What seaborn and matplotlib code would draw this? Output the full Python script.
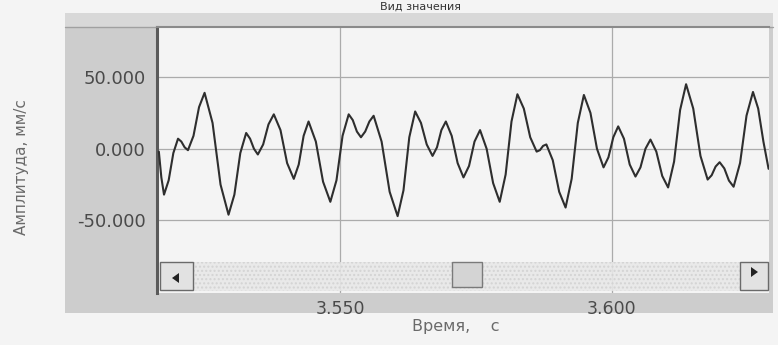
import matplotlib
matplotlib.use("Agg")
import matplotlib.pyplot as plt
from matplotlib.patches import Rectangle, Polygon
import seaborn as sns
import pandas as pd

# ---- data ----
time_s = [
    3.51664, 3.51710, 3.51759, 3.51845, 3.51931,
    3.52017, 3.52078, 3.52139,
    3.52200, 3.52302, 3.52404,
    3.52506, 3.52653, 3.52800,
    3.52947, 3.53055, 3.53164,
    3.53272, 3.53344, 3.53415,
    3.53487, 3.53585, 3.53683,
    3.53781, 3.53904, 3.54026,
    3.54149, 3.54240, 3.54330,
    3.54421, 3.54555, 3.54688,
    3.54822, 3.54935, 3.55047,
    3.55160, 3.55235, 3.55311,
    3.55386, 3.55464, 3.55541,
    3.55619, 3.55766, 3.55914,
    3.56061, 3.56169, 3.56276,
    3.56384, 3.56491, 3.56597,
    3.56704, 3.56786, 3.56867,
    3.56949, 3.57057, 3.57166,
    3.57274, 3.57376, 3.57477,
    3.57579, 3.57700, 3.57820,
    3.57941, 3.58050, 3.58158,
    3.58267, 3.58385, 3.58503,
    3.58621, 3.58681, 3.58740,
    3.58800, 3.58918, 3.59036,
    3.59154, 3.59266, 3.59379,
    3.59491, 3.59612, 3.59732,
    3.59853, 3.59943, 3.60033,
    3.60123, 3.60229, 3.60335,
    3.60441, 3.60533, 3.60625,
    3.60717, 3.60825, 3.60934,
    3.61042, 3.61152, 3.61263,
    3.61373, 3.61505, 3.61638,
    3.61770, 3.61844, 3.61917,
    3.61991, 3.62077, 3.62162,
    3.62248, 3.62367, 3.62486,
    3.62605, 3.62701, 3.62797,
    3.62892,
]
amplitude = [
    -2, -20, -32, -22, -3,
    7, 5, 1,
    -1, 9, 29,
    39, 18, -25,
    -46, -32, -3,
    11, 7, 0,
    -4, 3, 17,
    24, 13, -10,
    -21, -11, 9,
    19, 5, -23,
    -37, -22, 9,
    24, 20, 12,
    8, 12, 19,
    23, 5, -30,
    -47, -29, 8,
    26, 18, 3,
    -5, 1, 13,
    19, 9, -10,
    -20, -12, 5,
    13, 0, -24,
    -37, -18, 19,
    38, 28, 8,
    -2, -1, 2,
    3, -8, -30,
    -41, -21, 18,
    37.5, 25, 0,
    -13, -6, 8,
    15.6, 7, -11,
    -19.4, -13, 0,
    6.4, -2, -19,
    -27, -9, 27,
    45, 28, -5,
    -21.5, -18.5, -12.4,
    -9.4, -13.7, -22.2,
    -26.5, -10, 23.1,
    39.6, 28, 5,
    -14,
]
x_ticks = [3.55, 3.60]
x_tick_labels = ["3.550", "3.600"]
y_ticks = [-50, 0, 50]
y_tick_labels = ["-50.000", "0.000", "50.000"]
title_text = "Вид значения"
x_label = "Время,    с"
y_label = "Амплитуда, мм/с"

df = pd.DataFrame({"t": time_s, "a": amplitude})

sns.set_theme(style="white")
plt.rcParams["font.family"] = ["DejaVu Sans"]

W, H = 778, 345
fig = plt.figure(figsize=(W / 100, H / 100), dpi=100)
fig.patch.set_facecolor("#f4f4f4")

def fx(px):
    return px / W

def fy(py):
    return 1 - py / H

# background axes holding the gray window panel
bg = fig.add_axes([0, 0, 1, 1], zorder=0)
bg.set_xlim(0, W)
bg.set_ylim(H, 0)
bg.axis("off")
bg.add_patch(Rectangle((65, 13), 708, 300, facecolor="#cdcdcd", edgecolor="none"))
bg.add_patch(Rectangle((65, 13), 708, 14, facecolor="#d8d8d8", edgecolor="none"))
bg.plot([65, 773], [27, 27], color="#a0a0a0", linewidth=1.0)

ax_l, ax_r, ax_t, ax_b = 157, 769, 27, 293
ax = fig.add_axes([fx(ax_l), fy(ax_b), fx(ax_r) - fx(ax_l), fy(ax_t) - fy(ax_b)], zorder=2)
ax.set_facecolor("#f4f4f4")

sns.lineplot(data=df, x="t", y="a", ax=ax, color="#2e2e2e", linewidth=1.5,
             sort=False, estimator=None, zorder=3, solid_joinstyle="round")

ax.set_xlim(3.5163, 3.6290)
ax.set_ylim(-100.6, 84.9)
ax.set_xticks(x_ticks)
ax.set_xticklabels(x_tick_labels)
ax.set_yticks(y_ticks)
ax.set_yticklabels(y_tick_labels)
ax.grid(True, color="#ababab", linewidth=0.9, zorder=1)
ax.set_axisbelow(True)
ax.set_xlabel("")
ax.set_ylabel("")
ax.tick_params(axis="y", direction="out", length=3, width=1, color="#555555",
               labelsize=13, labelcolor="#4a4a4a", pad=5)
ax.tick_params(axis="x", direction="out", length=2, width=1, color="#555555",
               labelsize=12.5, labelcolor="#4a4a4a", pad=3)

for side in ["right", "bottom"]:
    ax.spines[side].set_visible(False)
ax.spines["left"].set_color("#5a5a5a")
ax.spines["left"].set_linewidth(2.2)
ax.spines["top"].set_color("#8a8a8a")
ax.spines["top"].set_linewidth(1.5)

# scrollbar drawn inside the plot area
def axx(px):
    return (px - ax_l) / (ax_r - ax_l)

def axy(py):
    return (ax_b - py) / (ax_b - ax_t)

T = ax.transAxes
ax.add_patch(Rectangle((axx(160), axy(291)), axx(768) - axx(160), axy(262) - axy(291),
                       transform=T, facecolor="#e8e8e8", edgecolor="#d2d2d2",
                       hatch="....", linewidth=0, alpha=0.9, zorder=4, clip_on=False))
for x0, x1 in [(160, 193), (740, 768)]:
    ax.add_patch(Rectangle((axx(x0), axy(290)), axx(x1) - axx(x0), axy(262) - axy(290),
                           transform=T, facecolor="#e2e2e2", edgecolor="#6a6a6a",
                           linewidth=1.0, zorder=5, clip_on=False))
ax.add_patch(Rectangle((axx(452), axy(287)), axx(482) - axx(452), axy(262) - axy(287),
                       transform=T, facecolor="#d4d4d4", edgecolor="#7a7a7a",
                       linewidth=1.0, zorder=5, clip_on=False))
ax.add_patch(Polygon([(axx(172), axy(278)), (axx(179), axy(273)), (axx(179), axy(283))],
                     closed=True, transform=T, facecolor="#222222", edgecolor="none",
                     zorder=6, clip_on=False))
ax.add_patch(Polygon([(axx(758), axy(272)), (axx(751), axy(267)), (axx(751), axy(277))],
                     closed=True, transform=T, facecolor="#222222", edgecolor="none",
                     zorder=6, clip_on=False))

# texts
fig.text(fx(22), fy(167), y_label, rotation=90, ha="center", va="center",
         fontsize=11, color="#6a6a6a")
fig.text(fx(456), fy(327), x_label, ha="center", va="center",
         fontsize=11.5, color="#6a6a6a")
fig.text(fx(420), fy(2), title_text, ha="center", va="top",
         fontsize=8, color="#333333")

fig.savefig("out.png", dpi=100, facecolor=fig.get_facecolor())
